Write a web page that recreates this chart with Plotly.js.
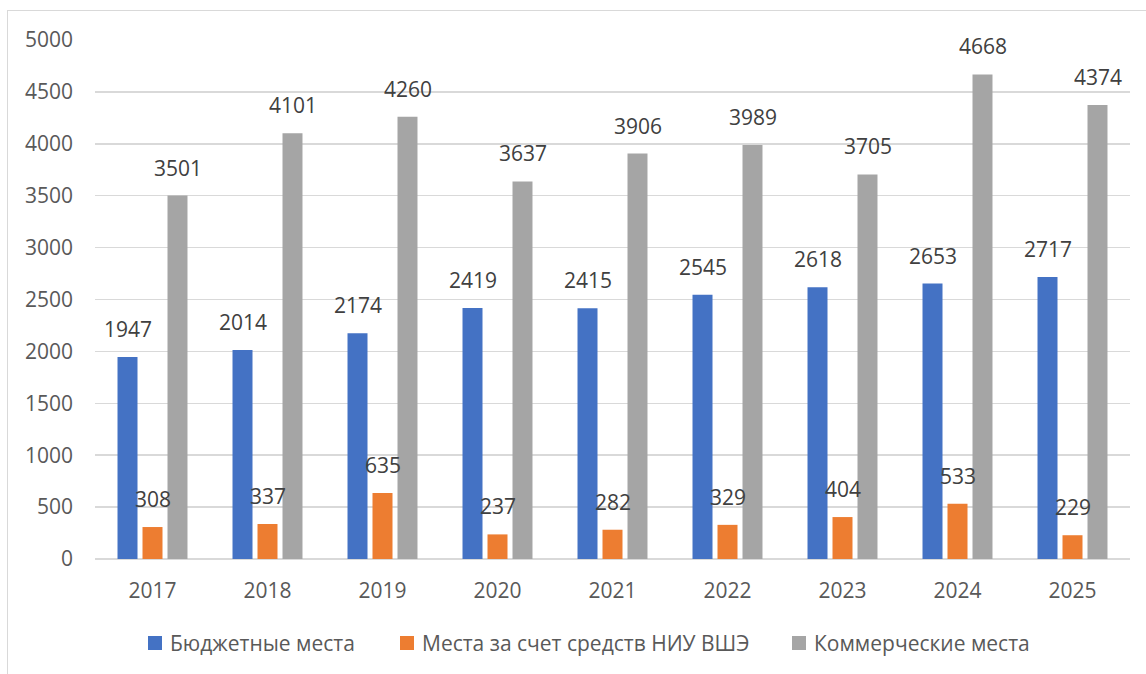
<!DOCTYPE html>
<html><head><meta charset="utf-8">
<script src="https://cdn.plot.ly/plotly-3.0.1.min.js"></script>
<style>
html,body{margin:0;padding:0;background:#fff;}
#wrap{position:relative;width:1146px;height:674px;}
#chart{width:1146px;height:674px;}
#frame{position:absolute;left:7px;top:10px;width:1150px;height:680px;border:1.5px solid #d9d9d9;pointer-events:none;}
</style>
</head><body>
<div id="wrap"><div id="chart"></div><div id="frame"></div></div>
<script>
const years = ['2017','2018','2019','2020','2021','2022','2023','2024','2025'];
const budget = [1947,2014,2174,2419,2415,2545,2618,2653,2717];
const hse = [308,337,635,237,282,329,404,533,229];
const commercial = [3501,4101,4260,3637,3906,3989,3705,4668,4374];
const seriesNames = ['Бюджетные места','Места за счет средств НИУ ВШЭ','Коммерческие места'];
const colors = ['#4472c4','#ed7d31','#a5a5a5'];

const FONT = 'Open Sans, Liberation Sans, sans-serif';
const W = 1146, H = 674;
const M = {l:95, r:16, t:40, b:115};
const PW = W - M.l - M.r, PH = H - M.t - M.b;
const px2x = px => (px - M.l) / PW;
const px2y = py => (H - M.b - py) / PH;

const series = [budget, hse, commercial];
const traces = series.map((vals,i)=>({
  type:'bar', x:years, y:vals, name:seriesNames[i],
  marker:{color:colors[i]}, hoverinfo:'skip', showlegend:false
}));

const offsets = [-25,0,25];
const annotations = [];
const shapes = [];
series.forEach((vals,i)=>{
  vals.forEach((v,j)=>{
    annotations.push({x:j, y:v, xref:'x', yref:'y', text:String(v), showarrow:false,
      xshift:offsets[i], yshift:12, yanchor:'bottom', font:{family:FONT,size:21,color:'#404040'}});
  });
});

// custom legend (pixel layout)
const legendTextLeft = [168, 420, 812];
const legendY = 643;
seriesNames.forEach((name,i)=>{
  const tl = legendTextLeft[i];
  shapes.push({type:'rect', xref:'paper', yref:'paper', layer:'above',
    x0:px2x(tl-20), x1:px2x(tl-6), y0:px2y(legendY+7), y1:px2y(legendY-7),
    fillcolor:colors[i], line:{width:0}});
  annotations.push({xref:'paper', yref:'paper', x:px2x(tl), y:px2y(legendY), xanchor:'left', yanchor:'middle',
    text:name, showarrow:false, font:{family:FONT,size:21,color:'#595959'}});
});

const layout = {
  width:W, height:H,
  margin:M,
  paper_bgcolor:'#fff', plot_bgcolor:'#fff',
  barmode:'group', bargap:0.348, bargroupgap:0.2,
  font:{family:FONT,size:21,color:'#595959'},
  xaxis:{type:'category', range:[-0.5, years.length-0.5], autorange:false, showgrid:false, zeroline:false, showline:false, ticks:'', ticklabelstandoff:17,
    tickfont:{family:FONT,size:21,color:'#595959'}},
  yaxis:{range:[0,5000], autorange:false, dtick:500, tick0:0, showgrid:true, gridcolor:'#d9d9d9', gridwidth:1.5,
    zeroline:true, zerolinecolor:'#d9d9d9', zerolinewidth:1.5, showline:false, ticks:'', ticklabelstandoff:21,
    tickfont:{family:FONT,size:21,color:'#595959'}},
  showlegend:false,
  annotations:annotations,
  shapes:shapes
};
Plotly.newPlot('chart', traces, layout, {displayModeBar:false, staticPlot:true});
</script>
</body></html>
